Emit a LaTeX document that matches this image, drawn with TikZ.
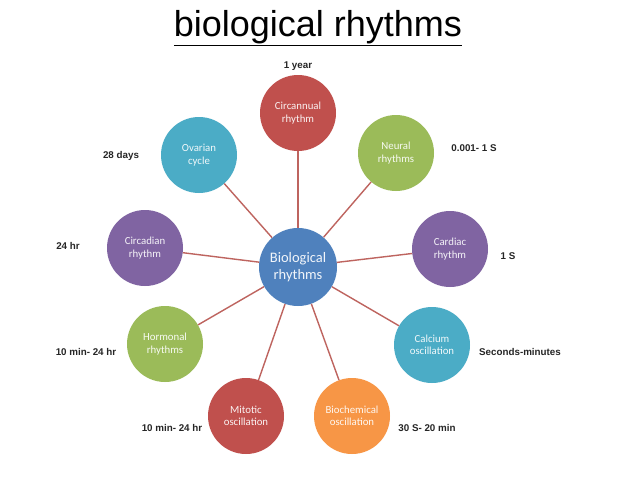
\documentclass[tikz,border=0pt]{standalone}
\usepackage{fontspec}
\setmainfont{Liberation Sans}
\newfontfamily\calib{Carlito}
\usetikzlibrary{positioning}
\definecolor{brick}{RGB}{192,80,77}
\definecolor{olive}{RGB}{155,187,89}
\definecolor{grape}{RGB}{128,100,162}
\definecolor{teal}{RGB}{75,172,198}
\definecolor{amber}{RGB}{247,150,70}
\definecolor{ocean}{RGB}{79,129,189}
\definecolor{spoke}{RGB}{190,100,95}
\tikzset{
  rhythm/.style={circle,fill=#1,minimum size=76pt,inner sep=0pt,align=center,
    text=white!92!#1,font=\calib\fontsize{10.8}{12.5}\selectfont},
  rhythm/.default=ocean,
  period/.style={font=\bfseries\fontsize{9.8}{11}\selectfont,text=black!85},
  spokeline/.style={draw=spoke,line width=1.4pt},
}
\begin{document}
\begin{tikzpicture}[x=1pt,y=-1pt]
  \useasboundingbox[fill=white] (0,0) rectangle (638,479);
  \node[font=\fontsize{36}{40}\selectfont,inner sep=0pt] (title) at (318,28) {\underline{biological rhythms}};
  % centre and the ring of rhythms
  \node[rhythm=ocean,minimum size=78pt,font=\calib\fontsize{14.5}{17}\selectfont] (cen) at (298,267) {Biological\\rhythms};
  \node[rhythm=brick] (annual) at (298,113) {Circannual\\rhythm};
  \node[rhythm=olive] (neural) at (396,153) {Neural\\rhythms};
  \node[rhythm=grape] (cardiac) at (450,249) {Cardiac\\rhythm};
  \node[rhythm=teal] (calcium) at (432,345) {Calcium\\oscillation};
  \node[rhythm=amber] (biochem) at (352,416) {Biochemical\\oscillation};
  \node[rhythm=brick] (mitotic) at (246,416) {Mitotic\\oscillation};
  \node[rhythm=olive] (hormonal) at (165,344) {Hormonal\\rhythms};
  \node[rhythm=grape] (circadian) at (145,248) {Circadian\\rhythm};
  \node[rhythm=teal] (ovarian) at (199,155) {Ovarian\\cycle};
  \foreach \n in {annual,neural,cardiac,calcium,biochem,mitotic,hormonal,circadian,ovarian}
    \draw[spokeline] (cen) -- (\n);
  % periods
  \node[period,above=1pt of annual] (pannual) {1 year};
  \node[period] (pneural) at (474,148) {0.001- 1 S};
  \node[period] (pcardiac) at (508,256) {1 S};
  \node[period] (pcalcium) at (520,352) {Seconds-minutes};
  \node[period] (pbiochem) at (427,428) {30 S- 20 min};
  \node[period] (pmitotic) at (172,428) {10 min- 24 hr};
  \node[period] (phormonal) at (86,352) {10 min- 24 hr};
  \node[period] (pcircadian) at (68,246) {24 hr};
  \node[period] (povarian) at (121,156) {28 days};
\end{tikzpicture}
\end{document}
